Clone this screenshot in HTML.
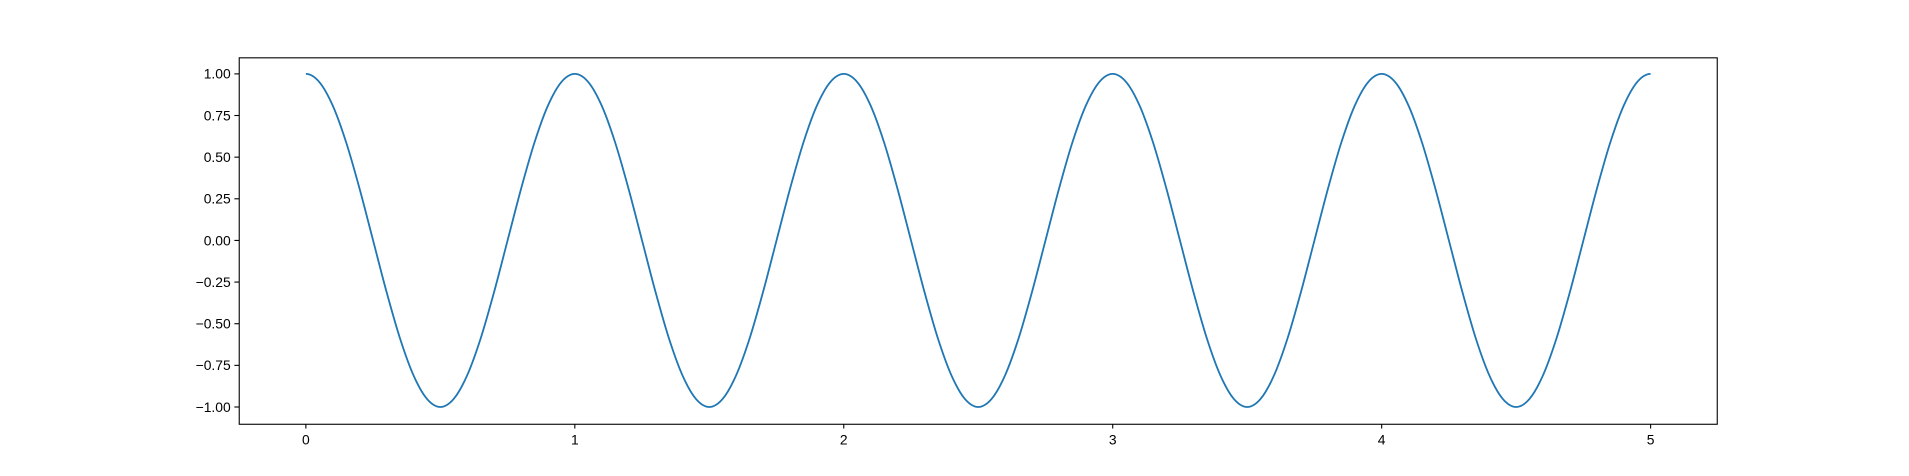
<!DOCTYPE html>
<html>
<head>
<meta charset="utf-8">
<style>
  html,body{margin:0;padding:0;background:#fff;overflow:hidden;}
  svg{display:block;font-family:"Liberation Sans","DejaVu Sans",sans-serif;}
</style>
</head>
<body>
<svg id="chart" width="1909" height="476" viewBox="0 0 1568 391" preserveAspectRatio="none"></svg>
<script>
// ---- data ----
const period = [1, 0.951, 0.809, 0.588, 0.309, 0, -0.309, -0.588, -0.809, -0.951,
                -1, -0.951, -0.809, -0.588, -0.309, 0, 0.309, 0.588, 0.809, 0.951];
const yValues = [].concat(period, period, period, period, period, [1]);
const xStep = 0.05;
const xTicks = [0, 1, 2, 3, 4, 5];
const xTickLabels = ["0", "1", "2", "3", "4", "5"];
const yTicks = [1, 0.75, 0.5, 0.25, 0, -0.25, -0.5, -0.75, -1];
const yTickLabels = ["1.00", "0.75", "0.50", "0.25", "0.00", "\u22120.25", "\u22120.50", "\u22120.75", "\u22121.00"];

// ---- layout ----
const L = 196, R = 1411, T = 47, B = 348;
const xMin = -0.25, xMax = 5.25, yMin = -1.1, yMax = 1.1;
const sx = v => L + (v - xMin) / (xMax - xMin) * (R - L);
const sy = v => B - (v - yMin) / (yMax - yMin) * (B - T);
const NS = "http://www.w3.org/2000/svg";
const svg = document.getElementById("chart");
function mk(tag, attrs, parent) {
  const e = document.createElementNS(NS, tag);
  for (const k in attrs) e.setAttribute(k, attrs[k]);
  (parent || svg).appendChild(e);
  return e;
}

// curve
const pts = yValues.map((v, i) => [sx(i * xStep), sy(v)]);
const n = pts.length;
let d = "M" + pts[0][0].toFixed(2) + "," + pts[0][1].toFixed(2);
for (let i = 0; i < n - 1; i++) {
  const p1 = pts[i], p2 = pts[i + 1];
  const p0 = i > 0 ? pts[i - 1] : [2 * p1[0] - p2[0], p2[1]];
  const p3 = i + 2 < n ? pts[i + 2] : [2 * p2[0] - p1[0], p1[1]];
  const c1 = [p1[0] + (p2[0] - p0[0]) / 6, p1[1] + (p2[1] - p0[1]) / 6];
  const c2 = [p2[0] - (p3[0] - p1[0]) / 6, p2[1] - (p3[1] - p1[1]) / 6];
  d += " C" + c1.map(q => q.toFixed(2)).join(",") + " " + c2.map(q => q.toFixed(2)).join(",") + " " + p2.map(q => q.toFixed(2)).join(",");
}
const line = mk("path", {d: d, fill: "none", stroke: "#1f77b4", "stroke-width": 1.5});



// frame
const frame = mk("rect", {x: L + 0.5, y: T + 0.5, width: R - L - 1, height: B - T, fill: "none", stroke: "#000", "stroke-width": 0.9});



// x ticks
xTicks.forEach((v, i) => {
  const x = sx(v);
  const t = mk("line", {x1: x, x2: x, y1: B + 0.5, y2: B + 4, stroke: "#000", "stroke-width": 0.9});
  
  
  const lab = mk("text", {x: x, y: B + 17, "font-size": 11.4, "text-anchor": "middle", fill: "#000"});
  lab.textContent = xTickLabels[i];
  
  
});

// y ticks
yTicks.forEach((v, i) => {
  const y = sy(v);
  const t = mk("line", {x1: L - 3.5, x2: L + 0.5, y1: y, y2: y, stroke: "#000", "stroke-width": 0.9});
  
  
  const lab = mk("text", {x: L - 6.5, y: y + 4, "font-size": 11.4, "text-anchor": "end", fill: "#000"});
  lab.textContent = yTickLabels[i];
  
  
});
</script>
</body>
</html>
